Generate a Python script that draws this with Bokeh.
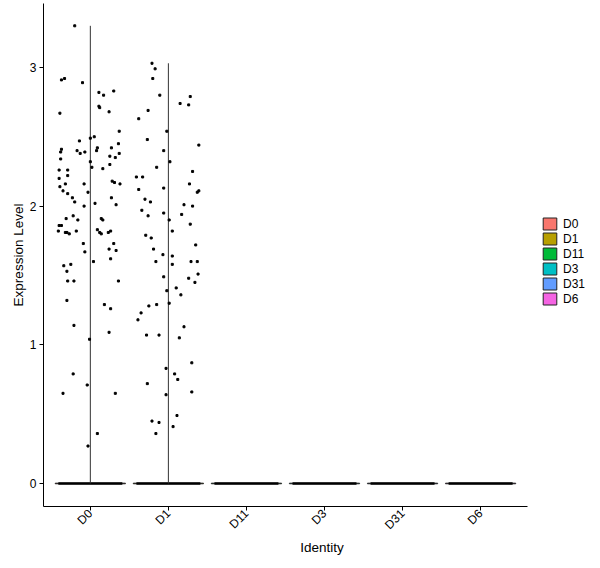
import numpy as np
from bokeh.plotting import figure
from bokeh.models import ColumnDataSource, Range1d, FixedTicker, Legend, LegendItem
from bokeh.embed import file_html
from bokeh.resources import INLINE

# groups (Identity) and ggplot hue colours
groups = ["D0", "D1", "D11", "D3", "D31", "D6"]
colors = ["#F8766D", "#B79F00", "#00BA38", "#00BFC4", "#619CFF", "#F564E3"]

# non-zero expression values, with their jitter offsets
d0_y = [3.30, 2.91, 2.92, 2.89, 2.82, 2.83, 2.80, 2.72, 2.71, 2.68, 2.67, 2.54, 2.49, 2.50,
        2.47, 2.45, 2.41, 2.39, 2.42, 2.40, 2.42, 2.40, 2.38, 2.39, 2.36, 2.35, 2.38, 2.34,
        2.32, 2.28, 2.30, 2.27, 2.26, 2.26, 2.22, 2.20, 2.18, 2.17, 2.16, 2.16, 2.16, 2.14,
        2.11, 2.09, 2.10, 2.06, 2.06, 2.03, 2.02, 2.00, 2.01, 1.91, 1.93, 1.90, 1.91, 1.90,
        1.86, 1.86, 1.82, 1.81, 1.81, 1.80, 1.82, 1.83, 1.81, 1.80, 1.81, 1.82, 1.73, 1.67,
        1.73, 1.69, 1.68, 1.62, 1.60, 1.57, 1.58, 1.53, 1.46, 1.46, 1.46, 1.32, 1.29, 1.26,
        1.14, 1.09, 1.04, 0.79, 0.71, 0.65, 0.65, 0.36, 0.27]
d0_dx = [-0.20, -0.37, -0.33, -0.10, 0.11, 0.30, 0.17, 0.11, 0.12, 0.24, -0.39, 0.37, 0.00,
         0.05, -0.14, 0.36, -0.37, -0.38, 0.09, 0.08, 0.27, -0.17, -0.13, -0.07, 0.25, 0.32,
         0.37, -0.38, 0.00, 0.02, 0.25, 0.16, -0.40, -0.29, -0.29, -0.40, 0.28, 0.31, 0.38,
         -0.32, -0.08, -0.39, -0.35, -0.29, -0.03, 0.27, -0.23, -0.20, 0.06, -0.08, 0.33,
         -0.31, -0.22, -0.16, 0.14, 0.16, -0.40, -0.37, -0.41, -0.32, -0.30, -0.27, -0.18,
         0.09, 0.12, 0.14, 0.23, 0.26, -0.09, -0.07, 0.30, 0.24, 0.33, 0.26, 0.04, -0.34,
         -0.25, -0.30, -0.29, -0.21, 0.36, -0.30, 0.18, 0.26, -0.21, 0.24, -0.01, -0.22,
         -0.04, -0.35, 0.32, 0.09, -0.03]
d1_y = [3.03, 2.99, 2.92, 2.80, 2.74, 2.73, 2.79, 2.69, 2.63, 2.48, 2.54, 2.44, 2.40, 2.32,
        2.28, 2.25, 2.21, 2.21, 2.12, 2.13, 2.16, 2.10, 2.11, 2.05, 2.03, 2.01, 2.00, 1.97,
        1.93, 1.95, 1.94, 1.90, 1.87, 1.79, 1.77, 1.82, 1.72, 1.69, 1.65, 1.64, 1.60, 1.58,
        1.60, 1.60, 1.49, 1.48, 1.45, 1.51, 1.41, 1.39, 1.36, 1.30, 1.29, 1.28, 1.23, 1.18,
        1.13, 1.07, 1.07, 1.05, 0.87, 0.83, 0.79, 0.75, 0.72, 0.64, 0.66, 0.49, 0.45, 0.44,
        0.41, 0.36]
d1_dx = [-0.21, -0.17, -0.20, -0.11, 0.15, 0.26, 0.28, -0.26, -0.38, -0.27, -0.02, 0.39,
         -0.06, 0.02, -0.15, 0.31, -0.41, -0.33, -0.38, -0.06, 0.27, 0.37, 0.39, -0.30,
         -0.23, 0.20, 0.31, -0.34, -0.26, -0.06, 0.17, 0.01, 0.28, -0.29, -0.22, 0.05, 0.35,
         -0.19, -0.07, 0.05, -0.16, 0.05, 0.29, 0.37, -0.06, 0.26, 0.34, 0.38, 0.10, -0.02,
         0.16, 0.01, -0.15, -0.25, -0.35, -0.39, 0.20, -0.28, -0.12, 0.14, 0.30, -0.03, 0.08,
         0.12, -0.27, -0.03, 0.30, 0.11, -0.21, -0.12, 0.06, -0.16]
nonzero = {"D0": (d0_y, d0_dx), "D1": (d1_y, d1_dx)}

FONT = "Liberation Sans"
violin_half = 0.45
jitter_half = 0.41

pos = {g: i + 1 for i, g in enumerate(groups)}

# the frame runs to the right edge so the legend can sit inside it;
# the x axis line itself is bounded to the category span
p = figure(
    width=600,
    height=568,
    output_backend="svg",
    toolbar_location=None,
    x_range=Range1d(0.4, 7.536),
    y_range=Range1d(-0.166, 3.461),
    min_border_left=43,
    min_border_right=0,
    min_border_top=3,
    min_border_bottom=62,
)
p.outline_line_color = None
p.xgrid.visible = False
p.ygrid.visible = False

# violins (all cells piled at 0, so only the outline shows)
vsrc = ColumnDataSource(
    data=dict(
        grp=groups,
        y=[0] * len(groups),
        left=[pos[g] - violin_half for g in groups],
        right=[pos[g] + violin_half for g in groups],
        color=colors,
    )
)
vr = p.hbar(
    y="y", left="left", right="right", height=0.004, fill_color="color",
    line_color="#222222", line_width=1, source=vsrc,
)

# zero-valued cells jittered along y = 0
p.segment(
    x0=[pos[g] - jitter_half for g in groups], y0=[0] * len(groups),
    x1=[pos[g] + jitter_half for g in groups], y1=[0] * len(groups),
    line_color="black", line_width=2.5,
)

# thin violin tails up to the max value
for g, (ys, dxs) in nonzero.items():
    p.segment(x0=[pos[g]], y0=[0], x1=[pos[g]], y1=[max(ys)],
              line_color="#333333", line_width=1)
    p.scatter(
        x=[pos[g] + d for d in dxs], y=ys, marker="square", size=2,
        color="black",
    )

# axes
p.xaxis.ticker = FixedTicker(ticks=[pos[g] for g in groups])
p.xaxis.major_label_overrides = {pos[g]: g for g in groups}
p.xaxis.major_label_orientation = np.pi / 4
p.xaxis.bounds = (0.4, 6.6)
p.yaxis.ticker = FixedTicker(ticks=[0, 1, 2, 3])
p.xaxis.axis_label = "Identity"
p.yaxis.axis_label = "Expression Level"
for ax in (p.xaxis, p.yaxis):
    ax.axis_line_color = "black"
    ax.axis_line_width = 1
    ax.major_tick_line_color = "black"
    ax.major_tick_in = 0
    ax.major_tick_out = 4
    ax.minor_tick_line_color = None
    ax.major_label_text_font = FONT
    ax.major_label_text_font_size = "12px"
    ax.major_label_text_color = "black"
    ax.axis_label_text_font = FONT
    ax.axis_label_text_font_size = "13.5px"
    ax.axis_label_text_font_style = "normal"
    ax.axis_label_text_color = "black"
p.yaxis.major_label_standoff = 3
p.yaxis.axis_label_standoff = 1
p.xaxis.major_label_standoff = 1
p.xaxis.axis_label_standoff = 0

legend = Legend(
    items=[LegendItem(label=g, renderers=[vr], index=i) for i, g in enumerate(groups)],
    location=(498, 200),
    margin=0,
    padding=0,
    spacing=0,
    glyph_width=17,
    glyph_height=15,
    label_height=15,
    label_standoff=5,
    label_text_font=FONT,
    label_text_font_size="12px",
    label_text_color="black",
    border_line_color=None,
    background_fill_alpha=0,
)
p.add_layout(legend)

open("out.html", "w").write(file_html(p, INLINE))
